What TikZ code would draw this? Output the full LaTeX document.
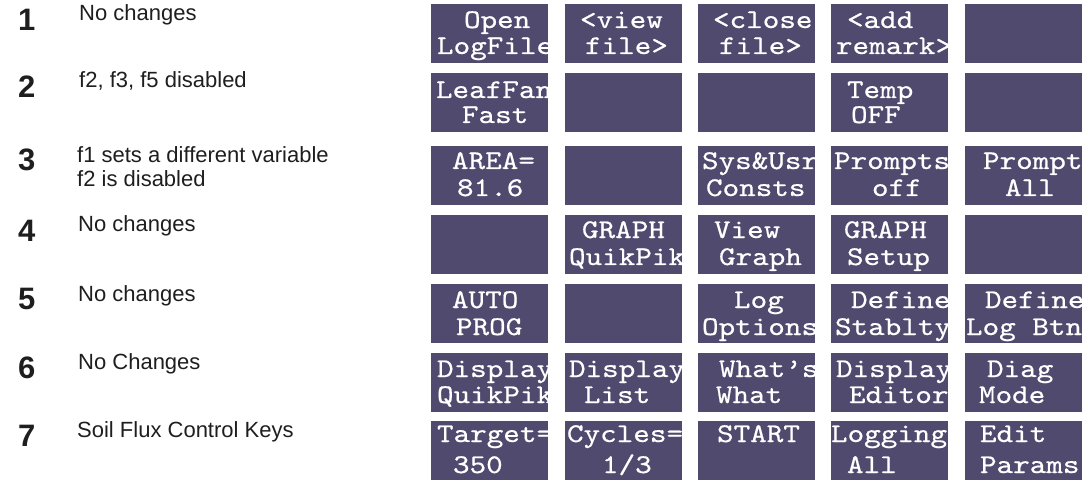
\documentclass[tikz,border=0pt]{standalone}
\usepackage{fontspec}
\setmainfont{Liberation Sans}
\newfontfamily\keyfont{lmmono10-regular.otf}[FakeStretch=1.17,FakeBold=0.6]
\definecolor{keycol}{RGB}{79,74,110}
\definecolor{labcol}{RGB}{30,30,30}
\tikzset{
  keybox/.style={fill=keycol,draw=none,minimum width=117pt,minimum height=59pt,inner sep=0pt,outer sep=0pt,anchor=north west},
  keytext/.style={text=white,inner sep=0pt,outer sep=0pt,anchor=base west,text height=17pt,text depth=0pt,font=\keyfont\fontsize{27}{27}\selectfont},
  numlabel/.style={text=labcol,inner sep=0pt,anchor=base west,font=\bfseries\fontsize{31}{31}\selectfont},
  desclabel/.style={text=labcol,inner sep=0pt,anchor=base west,text depth=2pt,font=\fontsize{22}{24}\selectfont}
}
% #1 name, #2 left, #3 top, #4 x1, #5 y1, #6 text1, #7 x2, #8 y2, #9 text2
\newcommand\kbox[9]{%
  \node[keybox] (#1) at (#2,#3) {};
  \begin{scope}
    \clip (#1.south west) rectangle (#1.north east);
    \node[keytext] (#1a) at (#4,#5) {#6};
    \node[keytext] (#1b) at (#7,#8) {#9};
  \end{scope}}
\newcommand\ebox[3]{\node[keybox] (#1) at (#2,#3) {};}
\begin{document}
\begin{tikzpicture}[x=1pt,y=-1pt]
\useasboundingbox (0,0) rectangle (1088,484);
% left labels
\node[numlabel] (n1) at (18,31) {1};
\node[numlabel] (n2) at (18,98) {2};
\node[numlabel] (n3) at (18,171) {3};
\node[numlabel] (n4) at (18,241) {4};
\node[numlabel] (n5) at (18,309) {5};
\node[numlabel] (n6) at (18,378) {6};
\node[numlabel] (n7) at (18,446) {7};
\node[desclabel] (d1) at (79,21) {No changes};
\node[desclabel] (d2) at (79,88) {f2, f3, f5 disabled};
\node[desclabel] (d3a) at (77,163) {f1 sets a different variable};
\node[desclabel] (d3b) at (77,187) {f2 is disabled};
\node[desclabel] (d4) at (78,232) {No changes};
\node[desclabel] (d5) at (78,301) {No changes};
\node[desclabel] (d6) at (78,369) {No Changes};
\node[desclabel] (d7) at (77,437) {Soil Flux Control Keys};
% row 1
\kbox{k11}{431}{4}{464}{28}{Open}{437}{54}{LogFile}
\kbox{k12}{565}{4}{580}{28}{<view}{585}{54}{file>}
\kbox{k13}{698}{4}{713}{28}{<close}{719}{54}{file>}
\kbox{k14}{831}{4}{847}{28}{<add}{836}{54}{remark>}
\ebox{k15}{965}{4}
% row 2
\kbox{k21}{431}{73}{436}{98}{LeafFan}{462}{123}{Fast}
\ebox{k22}{565}{73}
\ebox{k23}{698}{73}
\kbox{k24}{831}{73}{847}{98}{Temp}{851}{123}{OFF}
\ebox{k25}{965}{73}
% row 3
\kbox{k31}{431}{146}{452}{169}{AREA=}{457}{196}{81.6}
\ebox{k32}{565}{146}
\kbox{k33}{698}{146}{702}{169}{Sys\&Usr}{706}{196}{Consts}
\kbox{k34}{831}{146}{834}{169}{Prompts}{872}{196}{off}
\kbox{k35}{965}{146}{983}{169}{Prompt}{1005}{196}{All}
% row 4
\ebox{k41}{431}{215}
\kbox{k42}{565}{215}{582}{238}{GRAPH}{569}{265}{QuikPik}
\kbox{k43}{698}{215}{714}{238}{View}{719}{265}{Graph}
\kbox{k44}{831}{215}{844}{238}{GRAPH}{847}{265}{Setup}
\ebox{k45}{965}{215}
% row 5
\kbox{k51}{431}{284}{452}{308}{AUTO}{456}{335}{PROG}
\ebox{k52}{565}{284}
\kbox{k53}{698}{284}{734}{308}{Log}{702}{335}{Options}
\kbox{k54}{831}{284}{851}{308}{Define}{835}{335}{Stablty}
\kbox{k55}{965}{284}{985}{308}{Define}{966}{335}{Log Btn}
% row 6
\kbox{k61}{431}{353}{437}{377}{Display}{437}{403}{QuikPik}
\kbox{k62}{565}{353}{569}{377}{Display}{584}{403}{List}
\kbox{k63}{698}{353}{719}{377}{What’s}{716}{403}{What}
\kbox{k64}{831}{353}{836}{377}{Display}{849}{403}{Editor}
\kbox{k65}{965}{353}{987}{377}{Diag}{979}{403}{Mode}
% row 7
\kbox{k71}{431}{421}{437}{442}{Target=}{453}{473}{350}
\kbox{k72}{565}{421}{567}{442}{Cycles=}{602}{473}{1/3}
\kbox{k73}{698}{421}{717}{442}{START}{717}{473}{}
\kbox{k74}{831}{421}{831}{442}{Logging}{847}{473}{All}
\kbox{k75}{965}{421}{980}{442}{Edit}{980}{473}{Params}
\end{tikzpicture}
\end{document}
